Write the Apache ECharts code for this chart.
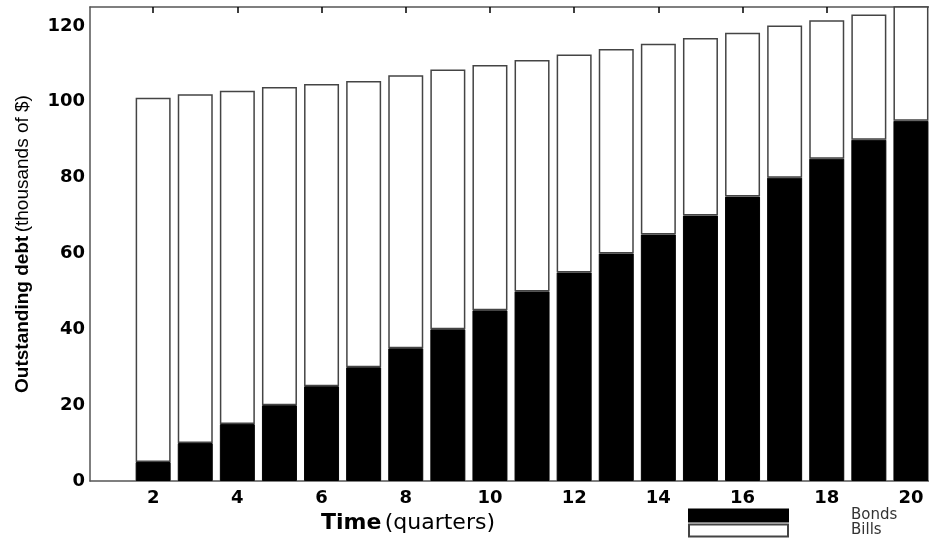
<!DOCTYPE html>
<html>
<head>
<meta charset="utf-8">
<script src="https://cdn.jsdelivr.net/npm/echarts@6/dist/echarts.min.js"></script>
<style>
  html, body { margin: 0; padding: 0; background: #fff; }
  #debtChart { width: 929px; height: 538px; }
</style>
</head>
<body>
<div id="debtChart"></div>
<script>
// quarter 1 carries no bar
const quarters = ['1', '2', '3', '4', '5', '6', '7', '8', '9', '10', '11', '12', '13', '14', '15', '16', '17', '18', '19', '20']
// thousands of $
const bonds = ['-', 5, 10, 15, 20, 25, 30, 35, 40, 45, 50, 55, 60, 65, 70, 75, 80, 85, 90, 95]
const bills = ['-', 96.1, 92.0, 87.9, 83.9, 79.7, 75.5, 72.0, 68.5, 64.7, 61.0, 57.5, 53.9, 50.3, 46.8, 43.2, 40.1, 36.5, 33.0, 32.0]
const yTicks = [0, 20, 40, 60, 80, 100, 120]

const chart = echarts.init(document.getElementById('debtChart'))
const axisColor = '#555'
const tickFont = 'DejaVu Sans'
const titleFont = 'Liberation Sans'
// label every second quarter
const evenQuarter = (index) => index % 2 === 1

const options = {
  animation: false,
  grid: {
    left: 90,
    top: 7,
    right: -3,
    bottom: 57,
    outerBoundsMode: 'none'
  },
  legend: {
    orient: 'vertical',
    left: 688,
    top: 508,
    padding: 0,
    itemGap: 0,
    itemWidth: 99,
    itemHeight: 12,
    icon: 'rect',
    selectedMode: false,
    textStyle: {
      fontFamily: 'DejaVu Sans',
      fontSize: 15,
      lineHeight: 12,
      color: '#333',
      padding: [0, 0, 0, 58]
    },
    data: ['Bonds', 'Bills']
  },
  xAxis: [{
    type: 'category',
    data: quarters,
    name: '{b|Time} {n|(quarters)}',
    nameLocation: 'middle',
    nameGap: 30,
    nameTextStyle: {
      padding: [0, 206, 0, 0],
      rich: {
        b: { fontFamily: 'DejaVu Sans', fontWeight: 'bold', fontSize: 22, color: '#000' },
        n: { fontFamily: 'DejaVu Sans', fontSize: 22, color: '#000' }
      }
    },
    axisLine: { lineStyle: { color: axisColor, width: 1.5 } },
    axisTick: { inside: true, length: 6, alignWithLabel: true, interval: evenQuarter, lineStyle: { color: '#000' } },
    axisLabel: {
      interval: evenQuarter,
      margin: 8,
      fontFamily: tickFont,
      fontWeight: 'bold',
      fontSize: 18,
      color: '#000'
    },
    splitLine: { show: false }
  }, {
    type: 'category',
    data: quarters,
    position: 'top',
    axisLine: { show: true, lineStyle: { color: axisColor, width: 1.5 } },
    axisTick: { show: true, inside: true, length: 6, alignWithLabel: true, interval: evenQuarter, lineStyle: { color: '#000', width: 1.5 } },
    axisLabel: { show: false, interval: evenQuarter },
    splitLine: { show: false }
  }],
  yAxis: {
    type: 'value',
    min: 0,
    max: 125,
    name: '{b|Outstanding debt} {n|(thousands of $)}',
    nameLocation: 'middle',
    nameGap: 58,
    nameTextStyle: {
      rich: {
        b: { fontFamily: titleFont, fontWeight: 'bold', fontSize: 19, color: '#000' },
        n: { fontFamily: titleFont, fontSize: 19, color: '#000' }
      }
    },
    axisLine: { show: true, lineStyle: { color: axisColor, width: 1.5 } },
    axisTick: { inside: true, length: 7, customValues: yTicks, lineStyle: { color: '#000' } },
    axisLabel: {
      customValues: yTicks,
      margin: 5,
      fontFamily: tickFont,
      fontWeight: 'bold',
      fontSize: 18,
      color: '#000'
    },
    splitLine: { show: false }
  },
  series: [{
    name: 'Bonds',
    type: 'bar',
    stack: 'debt',
    barWidth: 35,
    itemStyle: { color: '#000', borderColor: '#000', borderWidth: 1 },
    data: bonds
  }, {
    name: 'Bills',
    type: 'bar',
    stack: 'debt',
    barWidth: 35,
    itemStyle: { color: '#fff', borderColor: '#444', borderWidth: 1.5 },
    data: bills
  }]
}
chart.setOption(options)
</script>
</body>
</html>
